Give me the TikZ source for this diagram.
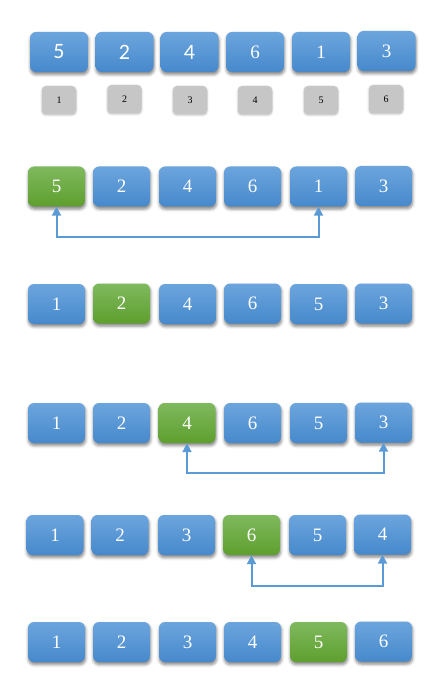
\documentclass[tikz,border=0pt]{standalone}
\usepackage{fontspec}
\setmainfont{Liberation Serif}
\newfontfamily\carl{Carlito}
\usetikzlibrary{shadows.blur,arrows.meta}
\definecolor{btop}{HTML}{6CA5DD}
\definecolor{bbot}{HTML}{4689CC}
\definecolor{gtop}{HTML}{7FB95E}
\definecolor{gbot}{HTML}{5E9F2E}
\definecolor{arrc}{HTML}{5B9BD5}
\definecolor{grayf}{HTML}{C6C6C6}
\tikzset{
  cell/.style={rounded corners=6pt, minimum width=57pt, minimum height=40pt, inner sep=0pt,
    text=white, font=\fontsize{19}{19}\selectfont,
    blur shadow={shadow xshift=0.5pt, shadow yshift=-2.5pt, shadow blur radius=3pt, shadow opacity=50}},
  bluecell/.style={cell, top color=btop, bottom color=bbot},
  greencell/.style={cell, top color=gtop, bottom color=gbot},
  sanscell/.style={font=\carl\fontsize{22}{22}\selectfont},
  idx/.style={rounded corners=4pt, minimum width=34pt, minimum height=28pt, inner sep=0pt,
    fill=grayf, text=black, font=\fontsize{10}{10}\selectfont,
    blur shadow={shadow xshift=0pt, shadow yshift=-1pt, shadow blur radius=2pt, shadow opacity=30}},
  swap/.style={draw=arrc, line width=2pt, {Triangle[width=9pt,length=9pt]}-{Triangle[width=9pt,length=9pt]}}
}
\begin{document}
\begin{tikzpicture}[x=1pt,y=-1pt]
\useasboundingbox (0,0) rectangle (439,684);
% Row 1
\node[bluecell,sanscell,minimum width=58pt] (r1a) at (59,52) {5};
\node[bluecell,sanscell,minimum width=58pt] (r1b) at (124.5,52) {2};
\node[bluecell,sanscell,minimum width=58pt] (r1c) at (189.5,52) {4};
\node[bluecell,minimum width=58pt] (r1d) at (255,52) {6};
\node[bluecell,minimum width=58pt] (r1e) at (321,52) {1};
\node[bluecell,minimum width=58pt] (r1f) at (386.5,51) {3};
% indices
\node[idx] (i1) at (59,100) {1};
\node[idx] (i2) at (124.5,99) {2};
\node[idx] (i3) at (190,100) {3};
\node[idx] (i4) at (255,100) {4};
\node[idx] (i5) at (321,100) {5};
\node[idx] (i6) at (386,99) {6};
% Row 2
\node[greencell] (r2a) at (56.5,186.5) {5};
\node[bluecell] (r2b) at (121.5,186.5) {2};
\node[bluecell] (r2c) at (187.5,186.5) {4};
\node[bluecell] (r2d) at (252.5,186.5) {6};
\node[bluecell] (r2e) at (318.5,186.5) {1};
\node[bluecell] (r2f) at (383.5,186) {3};
\draw[swap] (r2a.south) -- ++(0,30) -| (r2e.south);
% Row 3
\node[bluecell] (r3a) at (56.5,304) {1};
\node[greencell] (r3b) at (121.5,303.5) {2};
\node[bluecell] (r3c) at (187.5,304) {4};
\node[bluecell] (r3d) at (252.5,303.5) {6};
\node[bluecell] (r3e) at (318.5,304) {5};
\node[bluecell] (r3f) at (383.5,303.5) {3};
% Row 4
\node[bluecell] (r4a) at (56.5,423) {1};
\node[bluecell] (r4b) at (121.5,423) {2};
\node[greencell] (r4c) at (187,423) {4};
\node[bluecell] (r4d) at (252.5,423) {6};
\node[bluecell] (r4e) at (318.5,423) {5};
\node[bluecell] (r4f) at (383.5,422.5) {3};
\draw[swap] (r4c.south) -- ++(0,30) -| (r4f.south);
% Row 5
\node[bluecell] (r5a) at (55,535) {1};
\node[bluecell] (r5b) at (120,535) {2};
\node[bluecell] (r5c) at (186.5,535) {3};
\node[greencell] (r5d) at (251.5,535) {6};
\node[bluecell] (r5e) at (317.5,535) {5};
\node[bluecell] (r5f) at (382.5,534.5) {4};
\draw[swap] (r5d.south) -- ++(0,31) -| (r5f.south);
% Row 6
\node[bluecell] (r6a) at (56.5,642) {1};
\node[bluecell] (r6b) at (121.5,642) {2};
\node[bluecell] (r6c) at (187.5,642) {3};
\node[bluecell] (r6d) at (252.5,642) {4};
\node[greencell] (r6e) at (318.5,642) {5};
\node[bluecell] (r6f) at (383.5,641.5) {6};
\end{tikzpicture}
\end{document}
